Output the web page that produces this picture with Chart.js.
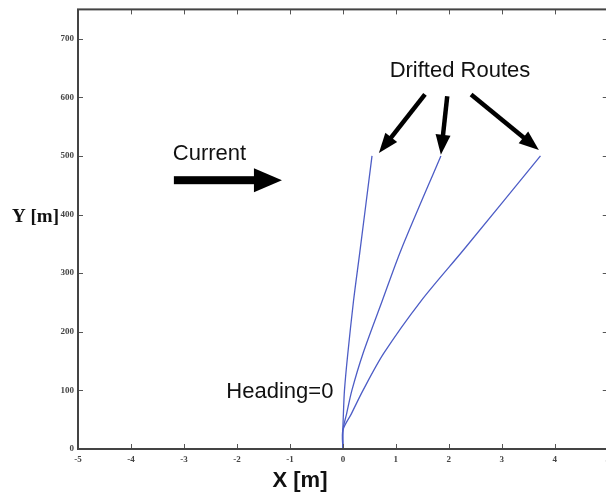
<!DOCTYPE html>
<html lang="en">
<head>
<meta charset="UTF-8" />
<title>Drifted Routes</title>
<script src="https://cdn.jsdelivr.net/npm/chart.js"></script>
<style>
  body { margin: 0; background: white; overflow: hidden; }
  .wrap { width: 615px; height: 503px; position: relative; }
</style>
</head>
<body>
<div class="wrap"><canvas id="routes"></canvas></div>
<script>
  // three drifted routes (x in m, y in m)
  const routeA_x = [0, 0, 0.01, 0.03, 0.09, 0.20, 0.32, 0.55];
  const routeA_y = [0, 32, 60, 100, 160, 252, 336, 500];
  const routeB_x = [0, 0, 0.07, 0.17, 0.38, 0.74, 1.10, 1.85];
  const routeB_y = [0, 32, 60, 100, 163, 252, 340, 500];
  const routeC_x = [0, 0, 0.16, 0.38, 0.77, 1.47, 2.28, 3.73];
  const routeC_y = [0, 32, 60, 100, 163, 252, 340, 500];

  const xTicks = [-5, -4, -3, -2, -1, 0, 1, 2, 3, 4, 5];
  const yTicks = [0, 100, 200, 300, 400, 500, 600, 700];

  const toPoints = (xs, ys) => xs.map((x, i) => ({ x: x, y: ys[i] }));

  function arrow(ctx, x1, y1, x2, y2, shaft, headLen, headW) {
    const a = Math.atan2(y2 - y1, x2 - x1);
    const len = Math.hypot(x2 - x1, y2 - y1);
    ctx.save();
    ctx.translate(x2, y2);
    ctx.rotate(a);
    ctx.fillRect(-len, -shaft / 2, len - headLen + 1, shaft);
    ctx.beginPath();
    ctx.moveTo(0, 0);
    ctx.lineTo(-headLen, -headW / 2);
    ctx.lineTo(-headLen, headW / 2);
    ctx.closePath();
    ctx.fill();
    ctx.restore();
  }

  // box, inward ticks, labels and arrows drawn on top (MATLAB-ish look)
  const framePlugin = {
    id: 'frame',
    afterDraw(chart) {
      const ctx = chart.ctx;
      const a = chart.chartArea;
      const xs = chart.scales.x, ys = chart.scales.y;
      const px = v => xs.getPixelForValue(v);
      const py = v => ys.getPixelForValue(v);
      ctx.save();

      ctx.strokeStyle = '#555';
      ctx.lineWidth = 1;
      xTicks.forEach(t => {
        const x = Math.round(px(t)) + 0.5;
        ctx.beginPath();
        ctx.moveTo(x, a.bottom); ctx.lineTo(x, a.bottom - 5);
        ctx.moveTo(x, a.top); ctx.lineTo(x, a.top + 5);
        ctx.stroke();
      });
      yTicks.forEach(t => {
        const y = Math.round(py(t)) + 0.5;
        ctx.beginPath();
        ctx.moveTo(a.left, y); ctx.lineTo(a.left + 5, y);
        ctx.moveTo(a.right, y); ctx.lineTo(a.right - 5, y);
        ctx.stroke();
      });

      ctx.strokeStyle = '#444';
      ctx.lineWidth = 2;
      ctx.strokeRect(a.left, a.top, a.right - a.left, a.bottom - a.top);

      // axis titles
      ctx.fillStyle = '#111';
      ctx.textBaseline = 'middle';
      ctx.textAlign = 'left';
      ctx.font = 'bold 19px "Liberation Serif", serif';
      ctx.fillText('Y [m]', 12, py(396));
      ctx.textAlign = 'center';
      ctx.font = 'bold 22px "Liberation Sans Narrow", "Liberation Sans", sans-serif';
      ctx.fillText('X [m]', 300, 481);

      // annotations
      ctx.font = '22px "Liberation Sans", Arial, sans-serif';
      ctx.textAlign = 'left';
      ctx.fillText('Current', px(-3.21), py(503));
      ctx.fillText('Heading=0', px(-2.2), py(97));
      ctx.textAlign = 'center';
      ctx.fillText('Drifted Routes', px(2.21), py(645));

      ctx.fillStyle = '#000';
      arrow(ctx, px(-3.19), py(458.6), px(-1.15), py(458.6), 8, 28, 24);
      arrow(ctx, px(1.55), py(605), px(0.68), py(505), 4.5, 20, 15);
      arrow(ctx, px(1.97), py(602), px(1.85), py(502), 4.5, 20, 15);
      arrow(ctx, px(2.42), py(605), px(3.70), py(510), 4.5, 20, 15);
      ctx.restore();
    }
  };

  const lineStyle = {
    borderColor: '#4d5dc6',
    borderWidth: 1.3,
    pointRadius: 0,
    fill: false,
    tension: 0.3
  };

  new Chart(document.getElementById('routes'), {
    type: 'line',
    data: {
      datasets: [
        Object.assign({ label: 'Route A', data: toPoints(routeA_x, routeA_y) }, lineStyle),
        Object.assign({ label: 'Route B', data: toPoints(routeB_x, routeB_y) }, lineStyle),
        Object.assign({ label: 'Route C', data: toPoints(routeC_x, routeC_y) }, lineStyle)
      ]
    },
    options: {
      responsive: true,
      maintainAspectRatio: false,
      animation: false,
      layout: { padding: { left: 0, top: 7, right: 4, bottom: 0 } },
      plugins: {
        legend: { display: false },
        tooltip: { enabled: false }
      },
      scales: {
        x: {
          type: 'linear',
          min: -5, max: 5,
          grid: { display: false, drawTicks: false },
          border: { display: false },
          afterFit: s => { s.height = 54; },
          afterBuildTicks: s => { s.ticks = xTicks.map(v => ({ value: v })); },
          ticks: {
            padding: 5,
            color: '#444',
            font: { family: '"Liberation Serif", serif', size: 9, weight: 'bold' },
            maxRotation: 0
          }
        },
        y: {
          type: 'linear',
          min: 0, max: 750,
          grid: { display: false, drawTicks: false },
          border: { display: false },
          afterFit: s => { s.width = 78; },
          afterBuildTicks: s => { s.ticks = yTicks.map(v => ({ value: v })); },
          ticks: {
            padding: 4,
            color: '#444',
            font: { family: '"Liberation Serif", serif', size: 9, weight: 'bold' }
          }
        }
      }
    },
    plugins: [framePlugin]
  });
</script>
</body>
</html>
